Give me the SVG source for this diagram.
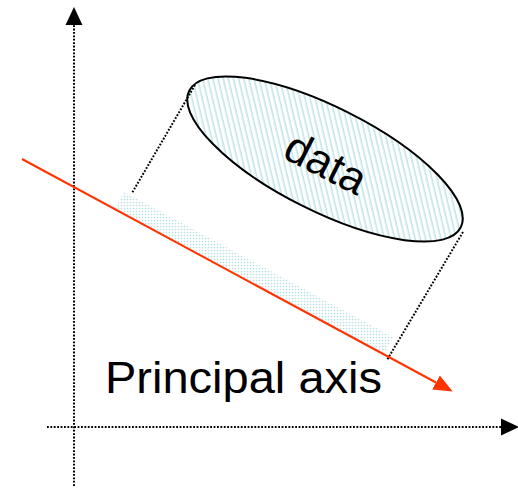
<svg xmlns="http://www.w3.org/2000/svg" width="518" height="488" viewBox="0 0 518 488">
<style>
.dot{fill:none;stroke:#000;stroke-width:2;stroke-dasharray:1.8 1.6}
.lbl{font-family:"Liberation Sans",Arial,sans-serif;fill:#000}
</style>
<defs>
<pattern id="hatch" patternUnits="userSpaceOnUse" width="5" height="5" patternTransform="rotate(-40)">
<rect width="5" height="5" fill="#fff"/>
<line x1="1.2" y1="0" x2="1.2" y2="5" stroke="#b4dfe3" stroke-width="1.3"/>
</pattern>
<pattern id="dots" patternUnits="userSpaceOnUse" width="3" height="3">
<circle cx="1.5" cy="1.5" r="0.85" fill="#b4dfe3"/>
</pattern>
<marker id="ahBlack" markerUnits="userSpaceOnUse" markerWidth="18" markerHeight="18" refX="0" refY="8" orient="auto" viewBox="0 0 17 16">
<path d="M0,0 L17,8 L0,16 Z" fill="#000"/>
</marker>
<marker id="ahRed" markerUnits="userSpaceOnUse" markerWidth="19" markerHeight="17" refX="0" refY="8" orient="auto" viewBox="0 0 19 16">
<path d="M0,0 L19,8 L0,16 Z" fill="#ff3300"/>
</marker>
</defs>
<rect width="518" height="488" fill="#fff"/>
<g id="projection">
<polygon points="124,192 393,337 384,354 115,209" fill="url(#dots)"/>
</g>
<g id="data">
<ellipse cx="325" cy="159" rx="152" ry="52" transform="rotate(26.7 325 159)" fill="url(#hatch)" stroke="#000" stroke-width="2"/>
<text class="lbl" x="281" y="157" font-size="44" transform="rotate(27 281 157)">data</text>
</g>
<g id="connectors">
<line class="dot" x1="74" y1="486" x2="74" y2="25" marker-end="url(#ahBlack)"/>
<line class="dot" x1="47" y1="427" x2="501" y2="427" marker-end="url(#ahBlack)"/>
<line class="dot" x1="195" y1="85" x2="132" y2="193"/>
<line class="dot" x1="463" y1="232" x2="387" y2="360"/>
<line x1="22" y1="159" x2="436" y2="382.5" stroke="#ff3300" stroke-width="2" marker-end="url(#ahRed)"/>
</g>
<g id="label">
<text class="lbl" x="105" y="393" font-size="45" textLength="277" lengthAdjust="spacingAndGlyphs">Principal axis</text>
</g>
</svg>
